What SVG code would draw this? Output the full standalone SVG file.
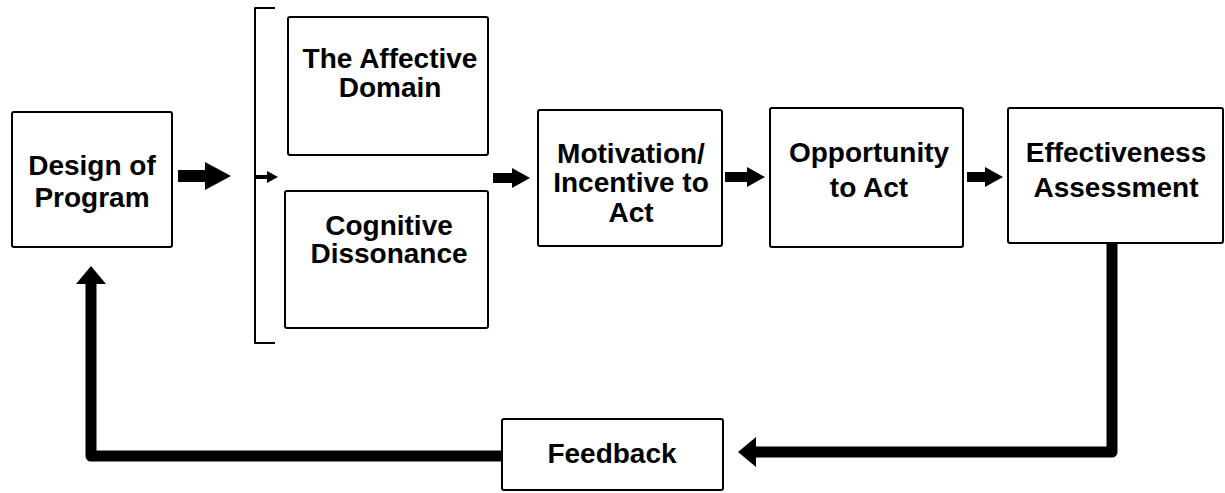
<svg xmlns="http://www.w3.org/2000/svg" width="1225" height="493" viewBox="0 0 1225 493">
<style>
.box{fill:#fff;stroke:#000;stroke-width:2}
.lbl{font-family:"Liberation Sans",Arial,Helvetica,sans-serif;font-weight:bold;font-size:28px;fill:#000;text-anchor:middle}
.con{fill:none;stroke:#000;stroke-linejoin:round}
</style>
<defs>
<marker id="headL" viewBox="0 -14 26 28" markerWidth="26" markerHeight="28" refX="0" refY="0" orient="auto" markerUnits="userSpaceOnUse"><path d="M0,-14 L26,0 L0,14 z" fill="#000"/></marker>
<marker id="headM" viewBox="0 -10 18 20" markerWidth="18" markerHeight="20" refX="0" refY="0" orient="auto" markerUnits="userSpaceOnUse"><path d="M0,-10 L18,0 L0,10 z" fill="#000"/></marker>
<marker id="headS" viewBox="0 -6 11 12" markerWidth="11" markerHeight="12" refX="0" refY="0" orient="auto" markerUnits="userSpaceOnUse"><path d="M0,-6 L11,0 L0,6 z" fill="#000"/></marker>
<marker id="headF" viewBox="0 -15 18 30" markerWidth="18" markerHeight="30" refX="0" refY="0" orient="auto" markerUnits="userSpaceOnUse"><path d="M0,-15 L18,0 L0,15 z" fill="#000"/></marker>
</defs>
<rect width="1225" height="493" fill="#fff"/>
<g id="connectors">
<line class="con" x1="178" y1="176" x2="205" y2="176" stroke-width="12" marker-end="url(#headL)"/>
<path class="con" d="M275,8 H255 V343 H275" stroke-width="2"/>
<line class="con" x1="255" y1="177" x2="267" y2="177" stroke-width="4" marker-end="url(#headS)"/>
<line class="con" x1="493" y1="178" x2="512" y2="178" stroke-width="10" marker-end="url(#headM)"/>
<line class="con" x1="725" y1="177" x2="747" y2="177" stroke-width="10" marker-end="url(#headM)"/>
<line class="con" x1="967" y1="177" x2="985" y2="177" stroke-width="10" marker-end="url(#headM)"/>
<path class="con" d="M1112,243 V452 H756" stroke-width="11" marker-end="url(#headF)"/>
<path class="con" d="M502,456 H91 V284" stroke-width="11" marker-end="url(#headF)"/>
</g>
<g id="design">
<rect class="box" x="12" y="112" width="160" height="135" rx="2"/>
<text class="lbl" x="92" y="175">Design of</text>
<text class="lbl" x="92" y="207">Program</text>
</g>
<g id="affective">
<rect class="box" x="288" y="17" width="200" height="138" rx="2"/>
<text class="lbl" x="390" y="68">The Affective</text>
<text class="lbl" x="390" y="97">Domain</text>
</g>
<g id="cognitive">
<rect class="box" x="285" y="191" width="203" height="137" rx="2"/>
<text class="lbl" x="389" y="235">Cognitive</text>
<text class="lbl" x="389" y="263">Dissonance</text>
</g>
<g id="motivation">
<rect class="box" x="538" y="110" width="184" height="136" rx="2"/>
<text class="lbl" x="631" y="163">Motivation/</text>
<text class="lbl" x="631" y="192">Incentive to</text>
<text class="lbl" x="631" y="222">Act</text>
</g>
<g id="opportunity">
<rect class="box" x="770" y="108" width="193" height="139" rx="2"/>
<text class="lbl" x="869" y="162">Opportunity</text>
<text class="lbl" x="869" y="197">to Act</text>
</g>
<g id="effectiveness">
<rect class="box" x="1008" y="108" width="215" height="135" rx="2"/>
<text class="lbl" x="1116" y="162">Effectiveness</text>
<text class="lbl" x="1116" y="197">Assessment</text>
</g>
<g id="feedback">
<rect class="box" x="502" y="419" width="221" height="71" rx="2"/>
<text class="lbl" x="612" y="463">Feedback</text>
</g>
</svg>
